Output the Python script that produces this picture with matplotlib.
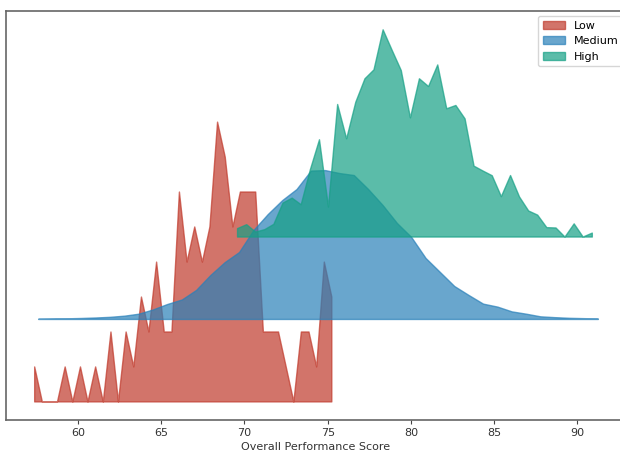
import matplotlib
matplotlib.use("Agg")
import matplotlib.pyplot as plt

# bin centres and density heights
low_x = [57.38, 57.84, 58.30, 58.75, 59.21, 59.67, 60.13, 60.58, 61.04, 61.50,
         61.96, 62.41, 62.87, 63.33, 63.79, 64.24, 64.70, 65.16, 65.62, 66.07,
         66.53, 66.99, 67.45, 67.90, 68.36, 68.82, 69.28, 69.73, 70.19, 70.65,
         71.11, 71.56, 72.02, 72.48, 72.94, 73.39, 73.85, 74.31, 74.77, 75.22]
low_y = [0.0212, 0.0, 0.0, 0.0, 0.0212, 0.0, 0.0212, 0.0, 0.0212, 0.0,
         0.0424, 0.0, 0.0424, 0.0212, 0.0636, 0.0424, 0.0848, 0.0424, 0.0424, 0.1273,
         0.0848, 0.1061, 0.0848, 0.1061, 0.1697, 0.1485, 0.1061, 0.1273, 0.1273, 0.1273,
         0.0424, 0.0424, 0.0424, 0.0212, 0.0, 0.0424, 0.0424, 0.0212, 0.0848, 0.0636]

medium_x = [57.62, 58.48, 59.34, 60.20, 61.07, 61.93, 62.79, 63.65, 64.51, 65.37,
            66.24, 67.10, 67.96, 68.82, 69.68, 70.54, 71.40, 72.27, 73.13, 73.99,
            74.85, 75.71, 76.57, 77.43, 78.30, 79.16, 80.02, 80.88, 81.74, 82.60,
            83.47, 84.33, 85.19, 86.05, 86.91, 87.77, 88.63, 89.50, 90.36, 91.22]
medium_y = [0.0002, 0.0003, 0.0004, 0.0006, 0.0009, 0.0013, 0.0020, 0.0032, 0.0058, 0.0091,
            0.0118, 0.0176, 0.0267, 0.0345, 0.0406, 0.0539, 0.0636, 0.0721, 0.0788, 0.0900,
            0.0903, 0.0885, 0.0873, 0.0788, 0.0691, 0.0582, 0.0497, 0.0370, 0.0285, 0.0200,
            0.0145, 0.0093, 0.0075, 0.0046, 0.0032, 0.0016, 0.0011, 0.0007, 0.0005, 0.0003]

high_x = [69.56, 70.11, 70.65, 71.20, 71.74, 72.29, 72.84, 73.38, 73.93, 74.48,
          75.02, 75.57, 76.11, 76.66, 77.21, 77.75, 78.30, 78.85, 79.39, 79.94,
          80.48, 81.03, 81.58, 82.12, 82.67, 83.22, 83.76, 84.31, 84.85, 85.40,
          85.95, 86.49, 87.04, 87.58, 88.13, 88.68, 89.22, 89.77, 90.31, 90.86]
high_y = [0.0051, 0.0075, 0.0030, 0.0045, 0.0077, 0.0206, 0.0236, 0.0196, 0.0408, 0.0590,
          0.0182, 0.0804, 0.0596, 0.0818, 0.0960, 0.1014, 0.1257, 0.1131, 0.1010, 0.0723,
          0.0960, 0.0913, 0.1044, 0.0778, 0.0798, 0.0717, 0.0430, 0.0400, 0.0372, 0.0245,
          0.0373, 0.0243, 0.0158, 0.0133, 0.0057, 0.0055, 0.0, 0.0080, 0.0, 0.0024]

groups = ["Low", "Medium", "High"]
colors = ["#c0392b", "#2980b9", "#16a085"]
offset = 0.05

fig = plt.figure(figsize=(6.2, 4.53), dpi=100)
ax = fig.add_axes([6 / 620, 33 / 453, 620 / 620, 409.3 / 453])

series = [(low_x, low_y), (medium_x, medium_y), (high_x, high_y)]
for i, (xs, ys) in enumerate(series):
    base = i * offset
    ax.fill_between(xs, base, [y + base for y in ys],
                    color=colors[i], alpha=0.7, label=groups[i])

ax.set_yticks([])
ax.set_xticks([60, 65, 70, 75, 80, 85, 90])
ax.tick_params(axis="x", labelsize=8, length=3, pad=2.5, colors="#444444",
               labelcolor="#333333")
ax.set_xlabel("Overall Performance Score", fontsize=8, color="#333333", labelpad=3)

for side in ["top", "left", "bottom"]:
    ax.spines[side].set_color("#666666")
    ax.spines[side].set_linewidth(1.2)
ax.spines["right"].set_visible(False)

ax.legend(loc="upper right", fontsize=8, bbox_to_anchor=(1.004, 1.0))

fig.savefig("out.png", dpi=100)
